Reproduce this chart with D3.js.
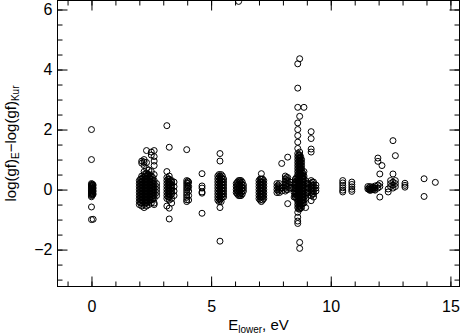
<!DOCTYPE html>
<html>
<head>
<meta charset="utf-8">
<script src="https://cdn.jsdelivr.net/npm/d3@7"></script>
<style>
  body { margin: 0; background: #fff; }
  svg text { font-family: "Liberation Sans", Arial, sans-serif; fill: #000; }
</style>
</head>
<body>
<div id="chart"></div>
<script>
// Each row: [E_lower (eV), delta log(gf) values at that energy ...]
var lowE = [
  [0.00, 2.0, 1.0, 0.2, 0.16, 0.12, 0.08, 0.04, 0.0, -0.04, -0.08, -0.12, -0.16, -0.2, -0.24, -0.58, -1.0],
  [0.04, 0.18, 0.14, 0.1, 0.06, 0.02, -0.02, -0.06, -0.1, -0.14, -0.18],
  [0.07, 0.15, 0.05, -0.05, -0.15, -0.99],
  [2.00, 0.3, 0.2, 0.1, 0.0, -0.1, -0.2, -0.3, -0.4, -0.5],
  [2.05, 0.35, 0.25, 0.15, 0.05, -0.05, -0.15, -0.25, -0.35, -0.45],
  [2.10, 0.95, 0.88, 0.45, 0.35, 0.25, 0.15, 0.05, -0.05, -0.15, -0.25, -0.35, -0.45, -0.55],
  [2.15, 0.4, 0.3, 0.2, 0.1, 0.0, -0.1, -0.2, -0.3, -0.4],
  [2.20, 1.0, 0.92, 0.8, 0.6, 0.5, 0.4, 0.3, 0.2, 0.1, 0.0, -0.1, -0.2, -0.3, -0.4, -0.5, -0.6],
  [2.25, 0.45, 0.35, 0.25, 0.15, 0.05, -0.05, -0.15, -0.25, -0.35, -0.45],
  [2.30, 1.3, 0.9, 0.7, 0.55, 0.45, 0.35, 0.25, 0.15, 0.05, -0.05, -0.15, -0.25, -0.35, -0.45, -0.55],
  [2.35, 0.5, 0.4, 0.3, 0.2, 0.1, 0.0, -0.1, -0.2, -0.3, -0.4],
  [2.40, 0.65, 0.5, 0.4, 0.3, 0.2, 0.1, 0.0, -0.1, -0.2, -0.3, -0.4, -0.5],
  [2.45, 0.45, 0.35, 0.25, 0.15, 0.05, -0.05, -0.15, -0.25, -0.35],
  [2.50, 1.25, 1.15, 0.6, 0.45, 0.35, 0.25, 0.15, 0.05, -0.05, -0.15, -0.25, -0.35, -0.45],
  [2.56, 0.4, 0.3, 0.2, 0.1, 0.0, -0.1, -0.2, -0.3],
  [2.62, 1.3, 1.1, 0.95, 0.8, 0.5, 0.3, 0.2, 0.1, 0.0, -0.1, -0.2, -0.3, -0.45, -0.5],
  [2.72, 0.2, 0.1, 0.0, -0.1, -0.2],
  [3.15, 2.13, 0.6, 0.4, 0.3, 0.2, 0.1, 0.0, -0.1, -0.2, -0.3, -0.55],
  [3.20, 0.35, 0.25, 0.15, 0.05, -0.05, -0.15, -0.25],
  [3.25, 1.41, 0.45, 0.35, 0.25, 0.15, 0.05, -0.05, -0.15, -0.25, -0.35, -0.62, -0.98],
  [3.30, 0.3, 0.2, 0.1, 0.0, -0.1, -0.2],
  [3.35, 0.3, 0.25, 0.15, 0.05, -0.05, -0.15, -0.3, -0.45],
  [3.45, 0.25, 0.1, -0.05, -0.2]
];

var midE = [
  [3.98, 1.33, 0.3, 0.22, 0.14, 0.06, -0.02, -0.1, -0.18, -0.26, -0.34, -0.4],
  [4.03, 0.28, 0.2, 0.12, 0.04],
  [4.06, 0.25, 0.1, -0.05, -0.2, -0.35],
  [4.62, 0.53, 0.12, 0.05, -0.08, -0.12, -0.79],
  [5.28, 0.45, 0.35, 0.25, 0.15, 0.05, -0.05, -0.15, -0.25, -0.35],
  [5.33, 0.5, 0.4, 0.3, 0.2, 0.1, 0.0, -0.1, -0.2, -0.3, -0.4],
  [5.37, 1.2, 0.95, 0.45, 0.35, 0.25, 0.15, 0.05, -0.05, -0.15, -0.25, -0.35, -0.6, -1.72],
  [5.42, 0.5, 0.4, 0.3, 0.2, 0.1, 0.0, -0.1, -0.2, -0.3, -0.4],
  [5.47, 0.45, 0.35, 0.25, 0.15, 0.05, -0.05, -0.15, -0.25],
  [5.52, 0.35, 0.25, 0.15, 0.05, -0.05, -0.15, -0.25],
  [6.05, 0.2, 0.1, 0.0, -0.1],
  [6.10, 0.25, 0.15, 0.05, -0.05, -0.15],
  [6.15, 6.27, 0.3, 0.2, 0.1, 0.0, -0.1, -0.2],
  [6.20, 0.3, 0.25, 0.15, 0.05, -0.05, -0.15, -0.2],
  [6.25, 0.3, 0.2, 0.1, 0.0, -0.1, -0.2],
  [6.30, 0.25, 0.15, 0.05, -0.05, -0.15],
  [6.35, 0.15, 0.05, -0.05],
  [7.00, 0.3, 0.2, 0.1, 0.0, -0.1, -0.2, -0.3],
  [7.05, 0.35, 0.25, 0.15, 0.05, -0.05, -0.15, -0.25, -0.35],
  [7.10, 0.53, 0.35, 0.25, 0.15, 0.05, -0.05, -0.15, -0.25, -0.4],
  [7.15, 0.35, 0.25, 0.15, 0.05, -0.05, -0.15, -0.25, -0.35],
  [7.20, 0.3, 0.2, 0.1, 0.0, -0.1, -0.2, -0.3]
];

var peakE = [
  [7.75, 0.2, 0.1, 0.0, -0.1],
  [7.80, 0.15, 0.05, -0.05],
  [7.85, 0.2, 0.1, 0.0, -0.1],
  [7.95, 0.87, 0.05, -0.05],
  [8.10, 0.45, 0.35, 0.25, 0.15, 0.05, -0.05],
  [8.15, 0.4, 0.3, 0.2, 0.1, 0.0],
  [8.20, 1.08, 0.4, 0.3, 0.2, 0.1, 0.0, -0.47],
  [8.30, 0.25, 0.05],
  [8.47, 0.2, 0.05, -0.1, -0.25],
  [8.52, 0.35, 0.25, 0.15, 0.05, -0.05, -0.15, -0.25],
  [8.57, 0.4, 0.3, 0.2, 0.1, 0.0, -0.1, -0.2, -0.3],
  [8.62, 4.19, 3.38, 2.74, 2.22, 2.0, 1.8, 1.58, 1.37, 1.2, 1.1, 1.0, 0.9, 0.8, 0.7, 0.6, 0.5, 0.4, 0.3, 0.2, 0.1, 0.0,
         -0.1, -0.2, -0.3, -0.4, -0.5, -0.6, -0.76, -0.92, -1.05, -1.13],
  [8.66, 1.15, 1.05, 0.95, 0.85, 0.75, 0.65, 0.55, 0.45, 0.35, 0.25, 0.15, 0.05, -0.05, -0.15, -0.25, -0.35, -0.45,
         -0.55, -0.65],
  [8.70, 4.36, 2.44, 1.25, 1.15, 1.05, 0.95, 0.85, 0.75, 0.65, 0.55, 0.45, 0.35, 0.25, 0.15, 0.05, -0.05, -0.15,
         -0.25, -0.35, -0.45, -0.55, -0.65, -1.76, -1.96],
  [8.74, 1.1, 1.0, 0.9, 0.8, 0.7, 0.6, 0.5, 0.4, 0.3, 0.2, 0.1, 0.0, -0.1, -0.2, -0.3, -0.4, -0.5, -0.6],
  [8.78, 1.0, 0.9, 0.8, 0.7, 0.6, 0.5, 0.4, 0.3, 0.2, 0.1, 0.0, -0.1, -0.2, -0.3, -0.4, -0.5, -0.6],
  [8.83, 0.55, 0.45, 0.35, 0.25, 0.15, 0.05, -0.05, -0.15, -0.25, -0.35, -0.45],
  [8.88, 2.74, 0.6, 0.45, 0.35, 0.25, 0.15, 0.05, -0.05, -0.15, -0.25, -0.35, -0.45],
  [8.95, 0.3, 0.2, 0.1, 0.0, -0.1, -0.2, -0.3, -0.6],
  [9.05, 0.2, 0.05, -0.1],
  [9.18, 1.93, 1.7, 1.35, 1.25, 0.3, 0.2, 0.1, 0.0, -0.1, -0.2, -0.37],
  [9.23, 0.25, 0.15, 0.05, -0.05, -0.15],
  [9.28, 0.25, 0.15, 0.05, -0.05, -0.15, -0.25],
  [9.38, 0.15, 0.05, -0.05]
];

var highE = [
  [10.50, 0.3, 0.22, 0.14, 0.06, -0.02, -0.08],
  [10.88, 0.25, 0.17, 0.09, 0.01, -0.06],
  [11.55, 0.1, 0.02],
  [11.60, 0.06, 0.0],
  [11.65, 0.1, 0.02, -0.03],
  [11.70, 0.06, 0.0],
  [11.75, 0.08, 0.0],
  [11.80, 0.06, 0.0],
  [11.85, 0.12, 0.05, -0.02],
  [11.97, 1.05, 0.94, 0.15, 0.05],
  [12.05, 0.52, 0.2, 0.1, -0.25],
  [12.14, 0.8],
  [12.40, 0.02, -0.08],
  [12.50, 0.3, 0.2, 0.1],
  [12.60, 1.63, 0.52, 0.25, 0.15, 0.05],
  [12.70, 1.13, 0.3, 0.2, 0.1],
  [13.10, 0.21, 0.14, 0.08],
  [13.90, 0.36, -0.23],
  [14.37, 0.24]
];

var xMajorTicks = [0, 5, 10, 15];
var xMinorTicks = d3.range(-1, 16, 1);
var yMajorTicks = [-2, 0, 2, 4, 6];
var yMinorTicks = d3.range(-3, 6.5, 0.5);

// flatten rows into points
var points = [];
[lowE, midE, peakE, highE].forEach(function(group) {
  group.forEach(function(row) {
    row.slice(1).forEach(function(v) {
      points.push({ e: row[0], d: v });
    });
  });
});

var svgWidth = 462;
var svgHeight = 336;
var box = { left: 57.5, right: 459.5, top: 0.5, bottom: 286.5 };

var svg = d3.select("#chart")
  .append("svg")
  .attr("width", svgWidth)
  .attr("height", svgHeight);

var xScale = d3.scaleLinear()
  .domain([-1.42, 15.38])
  .range([box.left, box.right]);

var yScale = d3.scaleLinear()
  .domain([-3.23, 6.3])
  .range([box.bottom, box.top]);

// clip for the points
svg.append("clipPath").attr("id", "plotclip")
  .append("rect")
  .attr("x", box.left).attr("y", box.top)
  .attr("width", box.right - box.left).attr("height", box.bottom - box.top);

svg.append("g")
  .attr("clip-path", "url(#plotclip)")
  .selectAll("circle")
  .data(points)
  .enter()
  .append("circle")
  .attr("cx", d => xScale(d.e))
  .attr("cy", d => yScale(d.d))
  .attr("r", 3)
  .attr("fill", "none")
  .attr("stroke", "#000")
  .attr("stroke-width", 1);

// axes: ticks point inward, mirrored on the opposite sides
function styleAxis(g) {
  g.select(".domain").remove();
  g.selectAll("line").attr("stroke", "#000").attr("stroke-width", 1);
}

svg.append("g")
  .attr("transform", `translate(0, ${box.bottom})`)
  .call(d3.axisBottom(xScale).tickValues(xMinorTicks).tickSize(-5).tickFormat(""))
  .call(styleAxis);
svg.append("g")
  .attr("transform", `translate(0, ${box.bottom})`)
  .call(d3.axisBottom(xScale).tickValues(xMajorTicks).tickSize(-10).tickPadding(14).tickFormat(d3.format("d")))
  .call(styleAxis)
  .selectAll("text").attr("font-size", "16px");

svg.append("g")
  .attr("transform", `translate(0, ${box.top})`)
  .call(d3.axisTop(xScale).tickValues(xMinorTicks).tickSize(-5).tickFormat(""))
  .call(styleAxis);
svg.append("g")
  .attr("transform", `translate(0, ${box.top})`)
  .call(d3.axisTop(xScale).tickValues(xMajorTicks).tickSize(-10).tickFormat(""))
  .call(styleAxis);

svg.append("g")
  .attr("transform", `translate(${box.left}, 0)`)
  .call(d3.axisLeft(yScale).tickValues(yMinorTicks).tickSize(-5).tickFormat(""))
  .call(styleAxis);
svg.append("g")
  .attr("transform", `translate(${box.left}, 0)`)
  .call(d3.axisLeft(yScale).tickValues(yMajorTicks).tickSize(-10).tickPadding(5)
    .tickFormat(d => d < 0 ? "\u2212" + Math.abs(d) : d))
  .call(styleAxis)
  .selectAll("text").attr("font-size", "16px");

svg.append("g")
  .attr("transform", `translate(${box.right}, 0)`)
  .call(d3.axisRight(yScale).tickValues(yMinorTicks).tickSize(-5).tickFormat(""))
  .call(styleAxis);
svg.append("g")
  .attr("transform", `translate(${box.right}, 0)`)
  .call(d3.axisRight(yScale).tickValues(yMajorTicks).tickSize(-10).tickFormat(""))
  .call(styleAxis);

// plot frame
svg.append("rect")
  .attr("x", box.left).attr("y", box.top)
  .attr("width", box.right - box.left).attr("height", box.bottom - box.top)
  .attr("fill", "none").attr("stroke", "#000").attr("stroke-width", 1);

// x title
var xTitle = svg.append("text")
  .attr("x", (box.left + box.right) / 2)
  .attr("y", 330)
  .attr("text-anchor", "middle")
  .attr("font-size", "15px");
xTitle.append("tspan").text("E");
xTitle.append("tspan").attr("font-size", "10px").attr("dy", 3).text("lower");
xTitle.append("tspan").attr("dy", -3).text(", eV");

// y title
var yTitle = svg.append("text")
  .attr("transform", `translate(16, ${(box.top + box.bottom) / 2}) rotate(-90)`)
  .attr("text-anchor", "middle")
  .attr("font-size", "15px");
yTitle.append("tspan").text("log(gf)");
yTitle.append("tspan").attr("font-size", "10px").attr("dy", 3).text("E");
yTitle.append("tspan").attr("dy", -3).text("\u2212log(gf)");
yTitle.append("tspan").attr("font-size", "10px").attr("dy", 3).text("Kur");
</script>
</body>
</html>
